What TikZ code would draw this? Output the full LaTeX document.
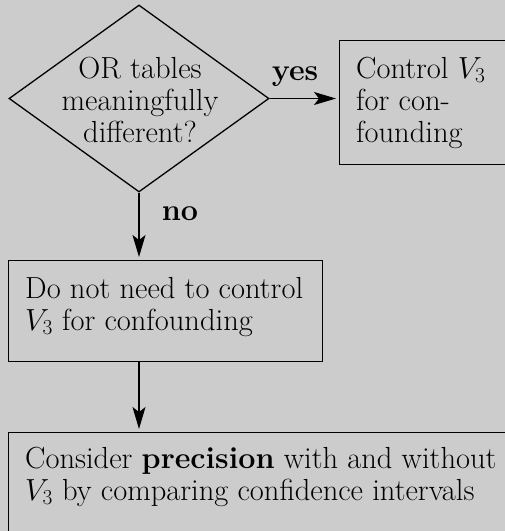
\documentclass[tikz,border=0pt]{standalone}
\usepackage{fix-cm}
\usetikzlibrary{shapes.geometric,arrows.meta,calc}
\definecolor{bggray}{RGB}{204,204,204}
\begin{document}
\begin{tikzpicture}[x=1pt,y=-1pt,
  every node/.style={font=\fontsize{30.5}{32}\selectfont},
  box/.style={draw, line width=1.3pt, rectangle, inner sep=0pt},
  dia/.style={draw, line width=1.3pt, diamond, inner sep=0pt, minimum width=260pt, minimum height=187pt},
  txt/.style={inner sep=0pt, anchor=base west},
  ctxt/.style={inner sep=0pt, anchor=base},
  lbl/.style={inner sep=0pt, anchor=base, font=\fontsize{30.5}{32}\selectfont\bfseries},
  arr/.style={-{Stealth[length=22pt,width=13pt,inset=5pt]}, line width=1.3pt, shorten >=3pt}
]
\fill[bggray] (0,0) rectangle (505,531);
\useasboundingbox (0,0) rectangle (505,531);
\clip (0,0) rectangle (505,531);

% shapes
\node[dia] (d) at (139,98.5) {};
\node[box, minimum width=190pt, minimum height=124pt, anchor=north west] (b1) at (339,40) {};
\node[box, minimum width=314pt, minimum height=101pt, anchor=north west] (b2) at (8,260) {};
\node[box, minimum width=520pt, minimum height=130pt, anchor=north west] (b3) at (8,432) {};

% diamond text
\node[ctxt] (d1) at (140,78) {OR tables};
\node[ctxt] (d2) at (140,110) {meaningfully};
\node[ctxt] (d3) at (140,142) {different?};

% box 1 text
\node[txt] (t11) at (356,78) {Control $V_3$};
\node[txt] (t12) at (356,110) {for con-};
\node[txt] (t13) at (356,142) {founding};

% box 2 text
\node[txt] (t21) at (25,298) {Do not need to control};
\node[txt] (t22) at (25,330) {$V_3$ for confounding};

% box 3 text
\node[txt] (t31) at (25,468) {Consider \textbf{precision} with and without};
\node[txt] (t32) at (25,500) {$V_3$ by comparing confidence intervals};

% connectors
\draw[arr] (d.east) -- (d.east -| b1.west);
\draw[arr] (d.south) -- (d.south |- b2.north);
\draw[arr] (d.south |- b2.south) -- (d.south |- b3.north);

% labels
\node[lbl] (yes) at (295,80) {yes};
\node[lbl] (no) at (180,220) {no};
\end{tikzpicture}
\end{document}
